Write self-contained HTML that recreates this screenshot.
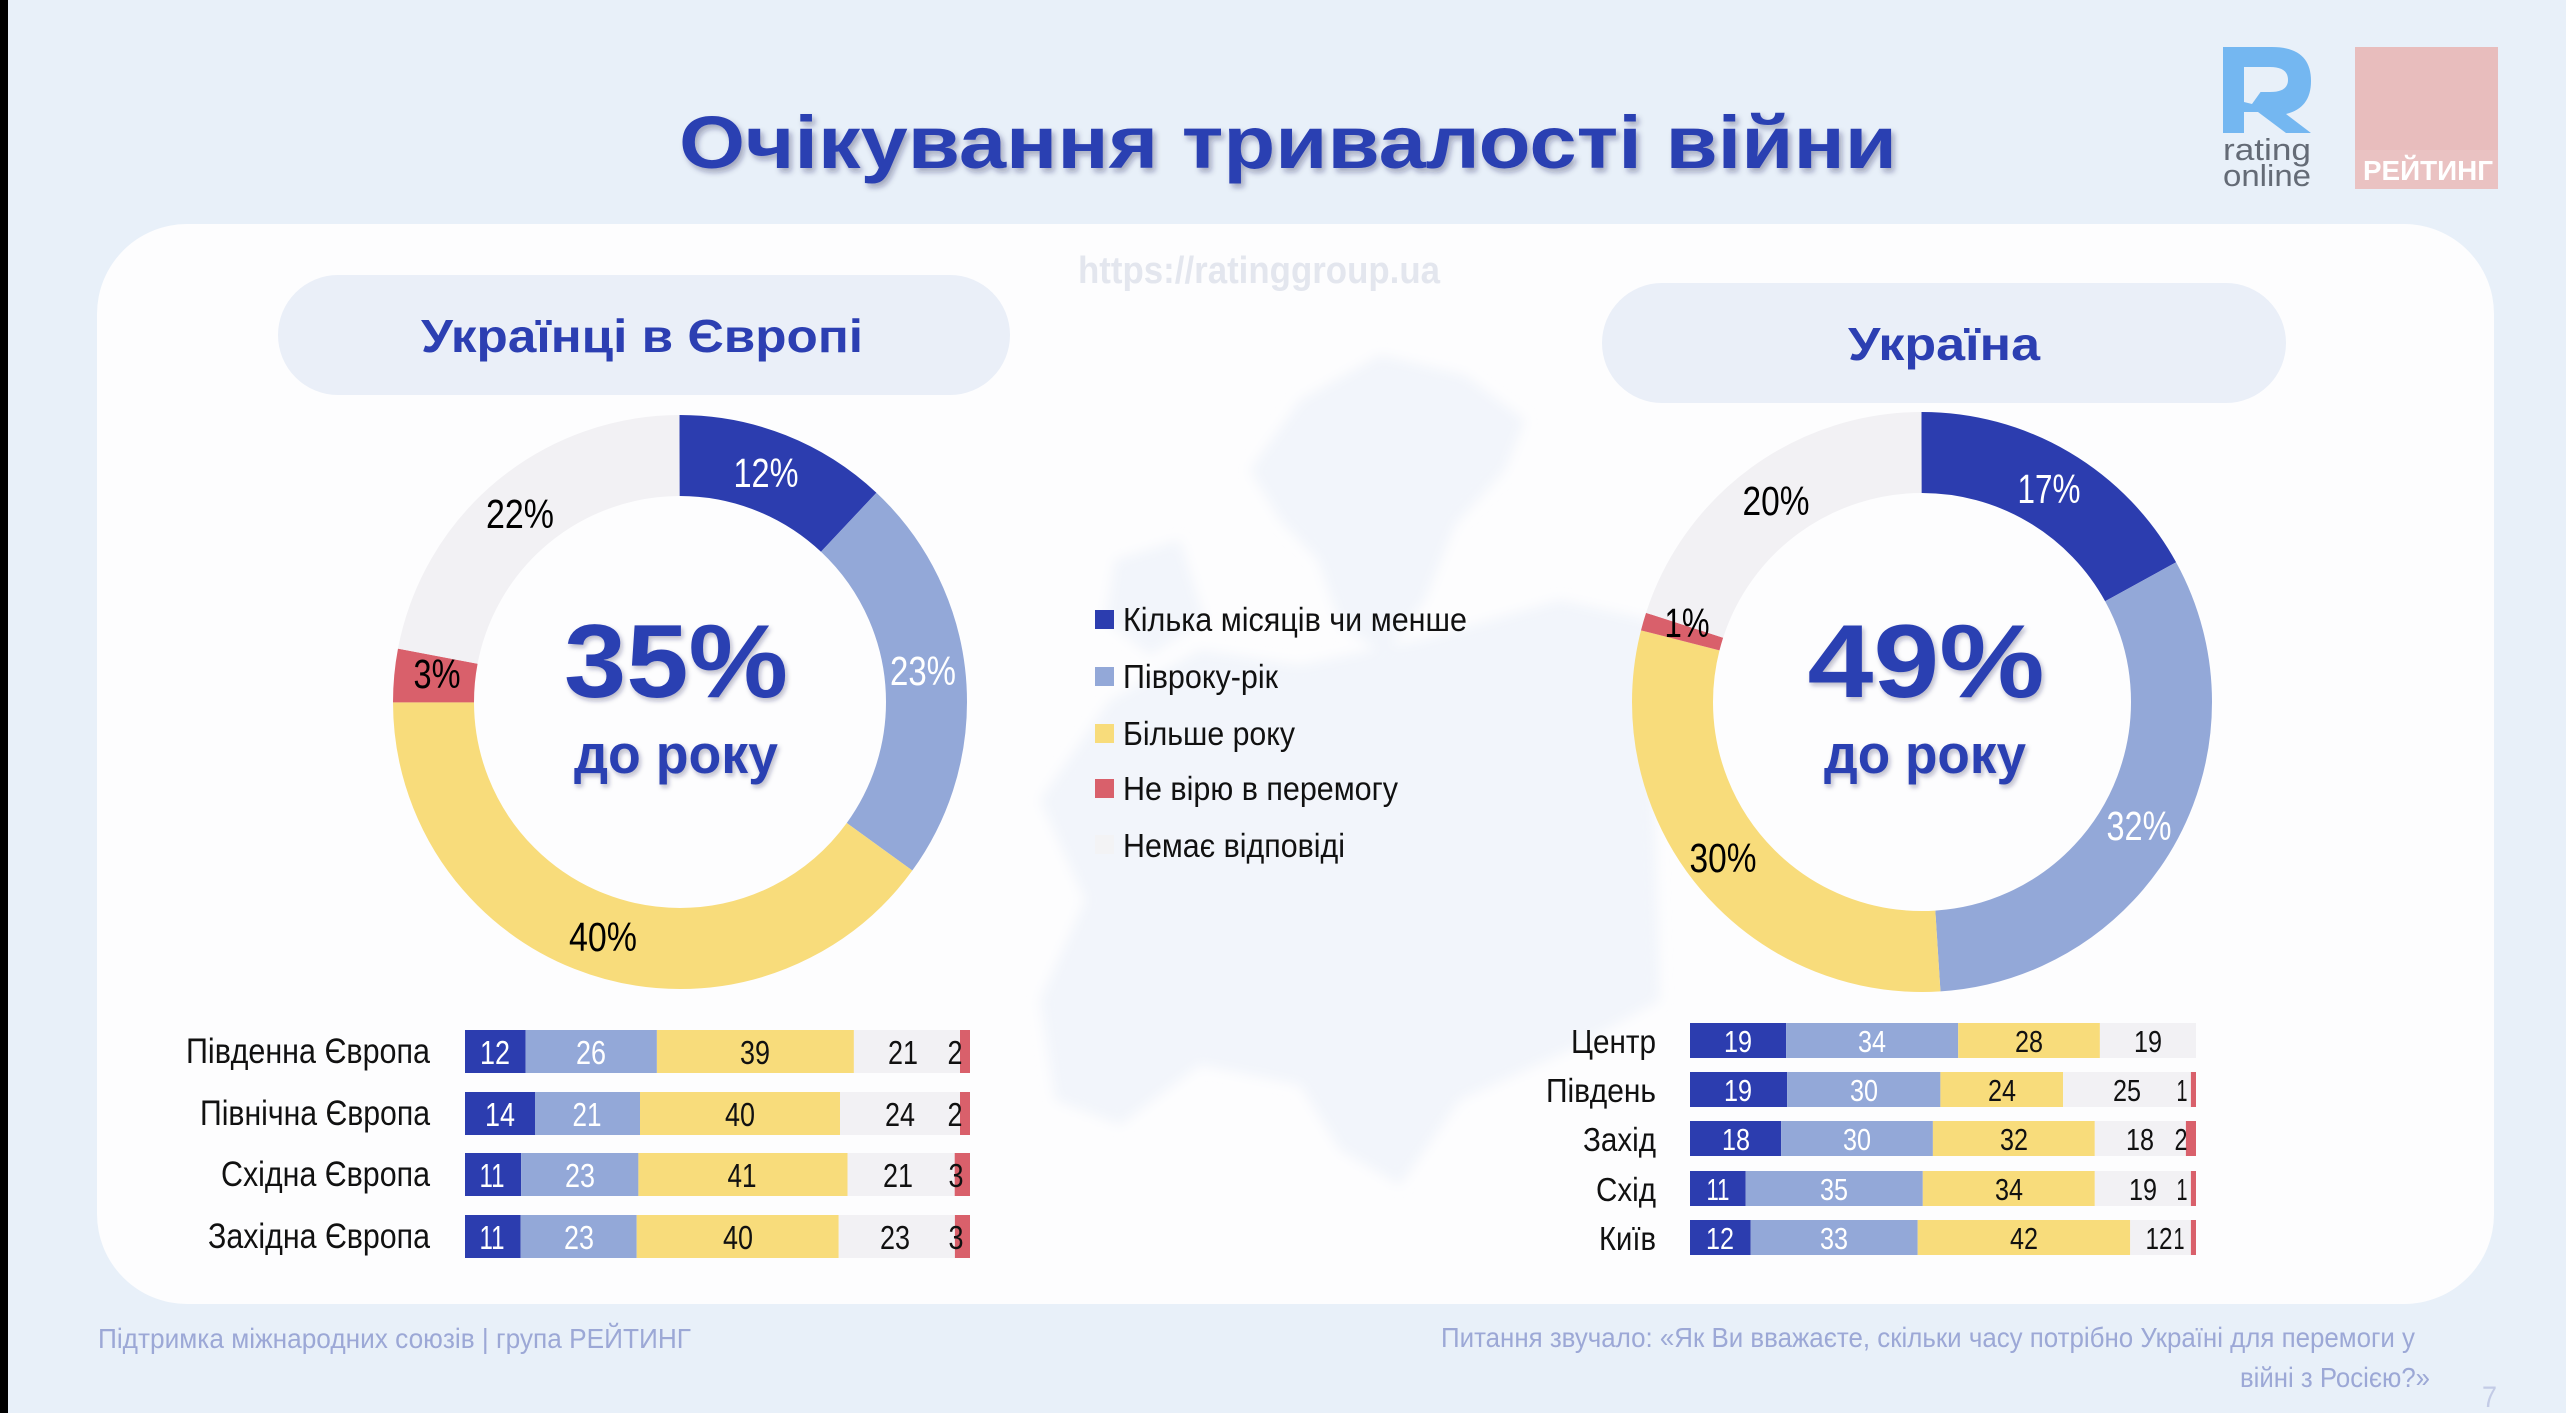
<!DOCTYPE html>
<html lang="uk">
<head>
<meta charset="utf-8">
<style>
  html,body{margin:0;padding:0;background:#e8f0f9;}
  body{width:2566px;height:1413px;overflow:hidden;}
  svg{display:block;}
  .t{font-family:"Liberation Sans Narrow","Liberation Sans","DejaVu Sans",sans-serif;}
  .b{font-family:"Liberation Sans","DejaVu Sans",sans-serif;font-weight:bold;}
</style>
</head>
<body>
<svg width="2566" height="1413" viewBox="0 0 2566 1413" xmlns="http://www.w3.org/2000/svg">
  <defs>
    <filter id="sh" x="-10%" y="-30%" width="120%" height="160%">
      <feDropShadow dx="3" dy="4" stdDeviation="3" flood-color="#1a2050" flood-opacity="0.35"/>
    </filter>
    <filter id="sh2" x="-10%" y="-30%" width="120%" height="160%">
      <feDropShadow dx="2" dy="3" stdDeviation="2.5" flood-color="#1a2050" flood-opacity="0.3"/>
    </filter>
    <filter id="blur" x="-10%" y="-10%" width="120%" height="120%">
      <feGaussianBlur stdDeviation="6"/>
    </filter>
  </defs>

  <!-- background -->
  <rect x="0" y="0" width="2566" height="1413" fill="#e8f0f9"/>
  <rect x="0" y="0" width="8" height="1413" fill="#000"/>

  <!-- title -->
  <text class="b" x="679" y="168" font-size="74" fill="#2c3fb2" textLength="1218" lengthAdjust="spacingAndGlyphs" filter="url(#sh)">Очікування тривалості війни</text>

  <!-- logos -->
  <g fill="#74b7f1">
    <rect x="2223" y="47" width="21" height="86"/>
    <path d="M2223 47 H2272 Q2311 47 2311 81 Q2311 108 2286 114 L2311 133 H2286 L2258 112 H2244 V92 H2270 Q2288 92 2288 80 Q2288 67 2270 67 H2223 Z"/>
  </g>
  <path d="M2244 88 L2262 90 L2252 104 L2244 102 Z" fill="#e8f0f9"/>
  <text x="2223" y="160" font-family="Liberation Sans, sans-serif" font-size="31" fill="#646b76" textLength="88" lengthAdjust="spacingAndGlyphs">rating</text>
  <text x="2223" y="186" font-family="Liberation Sans, sans-serif" font-size="31" fill="#646b76" textLength="88" lengthAdjust="spacingAndGlyphs">online</text>
  <rect x="2355" y="47" width="143" height="142" fill="#e8bdbd"/>
  <rect x="2355" y="150" width="143" height="39" fill="#eac2c2"/>
  <text class="b" x="2363" y="180" font-size="28" fill="#ffffff" textLength="130" lengthAdjust="spacingAndGlyphs">РЕЙТИНГ</text>

  <!-- card -->
  <rect x="97" y="224" width="2397" height="1080" rx="90" ry="90" fill="#fdfdfe"/>

  <!-- faint map -->
  <g fill="#f2f5fb" filter="url(#blur)">
    <path d="M1250 470 L1300 400 L1380 355 L1465 375 L1525 420 L1505 470 L1455 525 L1425 600 L1385 655 L1340 625 L1318 560 L1280 520 Z"/>
    <path d="M1110 700 L1200 650 L1300 665 L1420 640 L1560 600 L1650 620 L1660 1000 L1570 1050 L1460 1100 L1400 1185 L1340 1150 L1300 1085 L1200 1065 L1120 1125 L1055 1100 L1040 1000 L1085 900 L1040 800 Z"/>
    <path d="M1115 560 L1180 540 L1205 620 L1150 655 L1105 620 Z"/>
  </g>

  <!-- watermark -->
  <text class="b" x="1078" y="283" font-size="38" fill="#e3e6ee" textLength="362" lengthAdjust="spacingAndGlyphs">https://ratinggroup.ua</text>

  <!-- pills -->
  <rect x="278" y="275" width="732" height="120" rx="60" ry="60" fill="#eaeff8"/>
  <text class="b" x="421" y="352" font-size="46" fill="#2c3fb2" textLength="442" lengthAdjust="spacingAndGlyphs">Українці в Європі</text>
  <rect x="1602" y="283" width="684" height="120" rx="60" ry="60" fill="#eaeff8"/>
  <text class="b" x="1848" y="360" font-size="46" fill="#2c3fb2" textLength="192" lengthAdjust="spacingAndGlyphs">Україна</text>

  <!-- donut 1 -->
  <g transform="rotate(-90 680 702)" fill="none" stroke-width="81">
    <circle cx="680" cy="702" r="246.5" pathLength="100" stroke="#2c3daf" stroke-dasharray="12 88" stroke-dashoffset="0"/>
    <circle cx="680" cy="702" r="246.5" pathLength="100" stroke="#93a8d8" stroke-dasharray="23 77" stroke-dashoffset="-12"/>
    <circle cx="680" cy="702" r="246.5" pathLength="100" stroke="#f8dc7b" stroke-dasharray="40 60" stroke-dashoffset="-35"/>
    <circle cx="680" cy="702" r="246.5" pathLength="100" stroke="#d9606b" stroke-dasharray="3 97" stroke-dashoffset="-75"/>
    <circle cx="680" cy="702" r="246.5" pathLength="100" stroke="#f2f1f4" stroke-dasharray="22 78" stroke-dashoffset="-78"/>
  </g>
  <g class="t" font-size="41" text-anchor="middle">
    <text x="766" y="487" fill="#ffffff" textLength="65" lengthAdjust="spacingAndGlyphs">12%</text>
    <text x="923" y="685" fill="#ffffff" textLength="66" lengthAdjust="spacingAndGlyphs">23%</text>
    <text x="520" y="528" fill="#000000" textLength="68" lengthAdjust="spacingAndGlyphs">22%</text>
    <text x="437" y="688" fill="#000000" textLength="47" lengthAdjust="spacingAndGlyphs">3%</text>
    <text x="603" y="951" fill="#000000" textLength="68" lengthAdjust="spacingAndGlyphs">40%</text>
  </g>
  <text class="b" x="676" y="697" font-size="104" fill="#2c3fb2" text-anchor="middle" textLength="224" lengthAdjust="spacingAndGlyphs" filter="url(#sh2)">35%</text>
  <text class="b" x="676" y="773" font-size="55" fill="#2c3fb2" text-anchor="middle" textLength="204" lengthAdjust="spacingAndGlyphs" filter="url(#sh2)">до року</text>

  <!-- donut 2 -->
  <g transform="rotate(-90 1922 702)" fill="none" stroke-width="81">
    <circle cx="1922" cy="702" r="249.5" pathLength="100" stroke="#2c3daf" stroke-dasharray="17 83" stroke-dashoffset="0"/>
    <circle cx="1922" cy="702" r="249.5" pathLength="100" stroke="#93a8d8" stroke-dasharray="32 68" stroke-dashoffset="-17"/>
    <circle cx="1922" cy="702" r="249.5" pathLength="100" stroke="#f8dc7b" stroke-dasharray="30 70" stroke-dashoffset="-49"/>
    <circle cx="1922" cy="702" r="249.5" pathLength="100" stroke="#d9606b" stroke-dasharray="1 99" stroke-dashoffset="-79"/>
    <circle cx="1922" cy="702" r="249.5" pathLength="100" stroke="#f2f1f4" stroke-dasharray="20 80" stroke-dashoffset="-80"/>
  </g>
  <g class="t" font-size="41" text-anchor="middle">
    <text x="2049" y="503" fill="#ffffff" textLength="63" lengthAdjust="spacingAndGlyphs">17%</text>
    <text x="2139" y="840" fill="#ffffff" textLength="65" lengthAdjust="spacingAndGlyphs">32%</text>
    <text x="1723" y="872" fill="#000000" textLength="67" lengthAdjust="spacingAndGlyphs">30%</text>
    <text x="1776" y="515" fill="#000000" textLength="67" lengthAdjust="spacingAndGlyphs">20%</text>
    <text x="1687" y="637" fill="#000000" textLength="45" lengthAdjust="spacingAndGlyphs">1%</text>
  </g>
  <text class="b" x="1926" y="697" font-size="104" fill="#2c3fb2" text-anchor="middle" textLength="237" lengthAdjust="spacingAndGlyphs" filter="url(#sh2)">49%</text>
  <text class="b" x="1925" y="773" font-size="55" fill="#2c3fb2" text-anchor="middle" textLength="202" lengthAdjust="spacingAndGlyphs" filter="url(#sh2)">до року</text>

  <!-- legend -->
  <rect x="1095" y="610" width="19" height="19" fill="#2c3daf"/>
  <rect x="1095" y="667" width="19" height="19" fill="#93a8d8"/>
  <rect x="1095" y="724" width="19" height="19" fill="#f8dc7b"/>
  <rect x="1095" y="779" width="19" height="19" fill="#d9606b"/>
  <rect x="1095" y="835" width="19" height="19" fill="#f3f3f5"/>
  <g class="t" font-size="33" fill="#111111">
    <text x="1123" y="631" textLength="344" lengthAdjust="spacingAndGlyphs">Кілька місяців чи менше</text>
    <text x="1123" y="688" textLength="155" lengthAdjust="spacingAndGlyphs">Півроку-рік</text>
    <text x="1123" y="745" textLength="172" lengthAdjust="spacingAndGlyphs">Більше року</text>
    <text x="1123" y="800" textLength="275" lengthAdjust="spacingAndGlyphs">Не вірю в перемогу</text>
    <text x="1123" y="857" textLength="222" lengthAdjust="spacingAndGlyphs">Немає відповіді</text>
  </g>

  <!-- left bars -->
  <g>
    <rect x="465" y="1030" width="60.6" height="43" fill="#2c3daf"/>
    <rect x="525.6" y="1030" width="131.3" height="43" fill="#93a8d8"/>
    <rect x="656.9" y="1030" width="197" height="43" fill="#f8dc7b"/>
    <rect x="853.9" y="1030" width="106.1" height="43" fill="#f2f1f4"/>
    <rect x="960" y="1030" width="10" height="43" fill="#d9606b"/>

    <rect x="465" y="1092" width="70" height="43" fill="#2c3daf"/>
    <rect x="535" y="1092" width="105" height="43" fill="#93a8d8"/>
    <rect x="640" y="1092" width="200" height="43" fill="#f8dc7b"/>
    <rect x="840" y="1092" width="120" height="43" fill="#f2f1f4"/>
    <rect x="960" y="1092" width="10" height="43" fill="#d9606b"/>

    <rect x="465" y="1153" width="56.1" height="43" fill="#2c3daf"/>
    <rect x="521.1" y="1153" width="117.3" height="43" fill="#93a8d8"/>
    <rect x="638.4" y="1153" width="209.1" height="43" fill="#f8dc7b"/>
    <rect x="847.5" y="1153" width="107.2" height="43" fill="#f2f1f4"/>
    <rect x="954.7" y="1153" width="15.3" height="43" fill="#d9606b"/>

    <rect x="465" y="1215" width="55.6" height="43" fill="#2c3daf"/>
    <rect x="520.6" y="1215" width="116.1" height="43" fill="#93a8d8"/>
    <rect x="636.7" y="1215" width="202" height="43" fill="#f8dc7b"/>
    <rect x="838.7" y="1215" width="116.2" height="43" fill="#f2f1f4"/>
    <rect x="954.9" y="1215" width="15.1" height="43" fill="#d9606b"/>
  </g>
  <g class="t" font-size="35" fill="#111111" text-anchor="end">
    <text x="430" y="1063" textLength="244" lengthAdjust="spacingAndGlyphs">Південна Європа</text>
    <text x="430" y="1125" textLength="230" lengthAdjust="spacingAndGlyphs">Північна Європа</text>
    <text x="430" y="1186" textLength="209" lengthAdjust="spacingAndGlyphs">Східна Європа</text>
    <text x="430" y="1248" textLength="222" lengthAdjust="spacingAndGlyphs">Західна Європа</text>
  </g>
  <g class="t" font-size="33" text-anchor="middle">
    <text x="495" y="1064" fill="#fff" textLength="30" lengthAdjust="spacingAndGlyphs">12</text>
    <text x="591" y="1064" fill="#fff" textLength="30" lengthAdjust="spacingAndGlyphs">26</text>
    <text x="755" y="1064" fill="#111" textLength="30" lengthAdjust="spacingAndGlyphs">39</text>
    <text x="903" y="1064" fill="#111" textLength="30" lengthAdjust="spacingAndGlyphs">21</text>
    <text x="955" y="1064" fill="#111" textLength="15" lengthAdjust="spacingAndGlyphs">2</text>

    <text x="500" y="1126" fill="#fff" textLength="30" lengthAdjust="spacingAndGlyphs">14</text>
    <text x="587" y="1126" fill="#fff" textLength="29" lengthAdjust="spacingAndGlyphs">21</text>
    <text x="740" y="1126" fill="#111" textLength="30" lengthAdjust="spacingAndGlyphs">40</text>
    <text x="900" y="1126" fill="#111" textLength="30" lengthAdjust="spacingAndGlyphs">24</text>
    <text x="955" y="1126" fill="#111" textLength="15" lengthAdjust="spacingAndGlyphs">2</text>

    <text x="492" y="1187" fill="#fff" textLength="25" lengthAdjust="spacingAndGlyphs">11</text>
    <text x="580" y="1187" fill="#fff" textLength="30" lengthAdjust="spacingAndGlyphs">23</text>
    <text x="742" y="1187" fill="#111" textLength="29" lengthAdjust="spacingAndGlyphs">41</text>
    <text x="898" y="1187" fill="#111" textLength="30" lengthAdjust="spacingAndGlyphs">21</text>
    <text x="956" y="1187" fill="#111" textLength="15" lengthAdjust="spacingAndGlyphs">3</text>

    <text x="492" y="1249" fill="#fff" textLength="25" lengthAdjust="spacingAndGlyphs">11</text>
    <text x="579" y="1249" fill="#fff" textLength="30" lengthAdjust="spacingAndGlyphs">23</text>
    <text x="738" y="1249" fill="#111" textLength="30" lengthAdjust="spacingAndGlyphs">40</text>
    <text x="895" y="1249" fill="#111" textLength="30" lengthAdjust="spacingAndGlyphs">23</text>
    <text x="956" y="1249" fill="#111" textLength="15" lengthAdjust="spacingAndGlyphs">3</text>
  </g>

  <!-- right bars -->
  <g>
    <rect x="1690" y="1023" width="96.1" height="35" fill="#2c3daf"/>
    <rect x="1786.1" y="1023" width="172.1" height="35" fill="#93a8d8"/>
    <rect x="1958.2" y="1023" width="141.7" height="35" fill="#f8dc7b"/>
    <rect x="2099.9" y="1023" width="96.1" height="35" fill="#f2f1f4"/>

    <rect x="1690" y="1072" width="97.1" height="35" fill="#2c3daf"/>
    <rect x="1787.1" y="1072" width="153.3" height="35" fill="#93a8d8"/>
    <rect x="1940.4" y="1072" width="122.7" height="35" fill="#f8dc7b"/>
    <rect x="2063.1" y="1072" width="127.8" height="35" fill="#f2f1f4"/>
    <rect x="2190.9" y="1072" width="5.1" height="35" fill="#d9606b"/>

    <rect x="1690" y="1121" width="91.1" height="35" fill="#2c3daf"/>
    <rect x="1781.1" y="1121" width="151.8" height="35" fill="#93a8d8"/>
    <rect x="1932.9" y="1121" width="161.9" height="35" fill="#f8dc7b"/>
    <rect x="2094.8" y="1121" width="91.1" height="35" fill="#f2f1f4"/>
    <rect x="2185.9" y="1121" width="10.1" height="35" fill="#d9606b"/>

    <rect x="1690" y="1171" width="55.7" height="35" fill="#2c3daf"/>
    <rect x="1745.7" y="1171" width="177.1" height="35" fill="#93a8d8"/>
    <rect x="1922.8" y="1171" width="172" height="35" fill="#f8dc7b"/>
    <rect x="2094.8" y="1171" width="96.1" height="35" fill="#f2f1f4"/>
    <rect x="2190.9" y="1171" width="5.1" height="35" fill="#d9606b"/>

    <rect x="1690" y="1220" width="60.7" height="35" fill="#2c3daf"/>
    <rect x="1750.7" y="1220" width="167" height="35" fill="#93a8d8"/>
    <rect x="1917.7" y="1220" width="212.5" height="35" fill="#f8dc7b"/>
    <rect x="2130.2" y="1220" width="60.7" height="35" fill="#f2f1f4"/>
    <rect x="2190.9" y="1220" width="5.1" height="35" fill="#d9606b"/>
  </g>
  <g class="t" font-size="33" fill="#111111" text-anchor="end">
    <text x="1656" y="1053" textLength="85" lengthAdjust="spacingAndGlyphs">Центр</text>
    <text x="1656" y="1102" textLength="110" lengthAdjust="spacingAndGlyphs">Південь</text>
    <text x="1656" y="1151" textLength="73" lengthAdjust="spacingAndGlyphs">Захід</text>
    <text x="1656" y="1201" textLength="60" lengthAdjust="spacingAndGlyphs">Схід</text>
    <text x="1656" y="1250" textLength="57" lengthAdjust="spacingAndGlyphs">Київ</text>
  </g>
  <g class="t" font-size="31" text-anchor="middle">
    <text x="1738" y="1052" fill="#fff" textLength="28" lengthAdjust="spacingAndGlyphs">19</text>
    <text x="1872" y="1052" fill="#fff" textLength="28" lengthAdjust="spacingAndGlyphs">34</text>
    <text x="2029" y="1052" fill="#111" textLength="28" lengthAdjust="spacingAndGlyphs">28</text>
    <text x="2148" y="1052" fill="#111" textLength="28" lengthAdjust="spacingAndGlyphs">19</text>

    <text x="1738" y="1101" fill="#fff" textLength="28" lengthAdjust="spacingAndGlyphs">19</text>
    <text x="1864" y="1101" fill="#fff" textLength="28" lengthAdjust="spacingAndGlyphs">30</text>
    <text x="2002" y="1101" fill="#111" textLength="28" lengthAdjust="spacingAndGlyphs">24</text>
    <text x="2127" y="1101" fill="#111" textLength="28" lengthAdjust="spacingAndGlyphs">25</text>
    <text x="2182" y="1101" fill="#111" textLength="11" lengthAdjust="spacingAndGlyphs">1</text>

    <text x="1736" y="1150" fill="#fff" textLength="28" lengthAdjust="spacingAndGlyphs">18</text>
    <text x="1857" y="1150" fill="#fff" textLength="28" lengthAdjust="spacingAndGlyphs">30</text>
    <text x="2014" y="1150" fill="#111" textLength="28" lengthAdjust="spacingAndGlyphs">32</text>
    <text x="2140" y="1150" fill="#111" textLength="28" lengthAdjust="spacingAndGlyphs">18</text>
    <text x="2181" y="1150" fill="#111" textLength="13" lengthAdjust="spacingAndGlyphs">2</text>

    <text x="1718" y="1200" fill="#fff" textLength="23" lengthAdjust="spacingAndGlyphs">11</text>
    <text x="1834" y="1200" fill="#fff" textLength="28" lengthAdjust="spacingAndGlyphs">35</text>
    <text x="2009" y="1200" fill="#111" textLength="28" lengthAdjust="spacingAndGlyphs">34</text>
    <text x="2143" y="1200" fill="#111" textLength="28" lengthAdjust="spacingAndGlyphs">19</text>
    <text x="2182" y="1200" fill="#111" textLength="11" lengthAdjust="spacingAndGlyphs">1</text>

    <text x="1720" y="1249" fill="#fff" textLength="28" lengthAdjust="spacingAndGlyphs">12</text>
    <text x="1834" y="1249" fill="#fff" textLength="28" lengthAdjust="spacingAndGlyphs">33</text>
    <text x="2024" y="1249" fill="#111" textLength="28" lengthAdjust="spacingAndGlyphs">42</text>
    <text x="2159" y="1249" fill="#111" textLength="27" lengthAdjust="spacingAndGlyphs">12</text>
    <text x="2179" y="1249" fill="#111" textLength="11" lengthAdjust="spacingAndGlyphs">1</text>
  </g>

  <!-- footer -->
  <text class="t" x="98" y="1348" font-size="28" fill="#9ca8d6" textLength="593" lengthAdjust="spacingAndGlyphs">Підтримка міжнародних союзів | група РЕЙТИНГ</text>
  <text class="t" x="1441" y="1347" font-size="28" fill="#9ca8d6" textLength="974" lengthAdjust="spacingAndGlyphs">Питання звучало: «Як Ви вважаєте, скільки часу потрібно Україні для перемоги у</text>
  <text class="t" x="2240" y="1387" font-size="28" fill="#9ca8d6" textLength="190" lengthAdjust="spacingAndGlyphs">війні з Росією?»</text>
  <text class="t" x="2482" y="1407" font-size="30" fill="#c3cbe6" textLength="15" lengthAdjust="spacingAndGlyphs">7</text>
</svg>
</body>
</html>
